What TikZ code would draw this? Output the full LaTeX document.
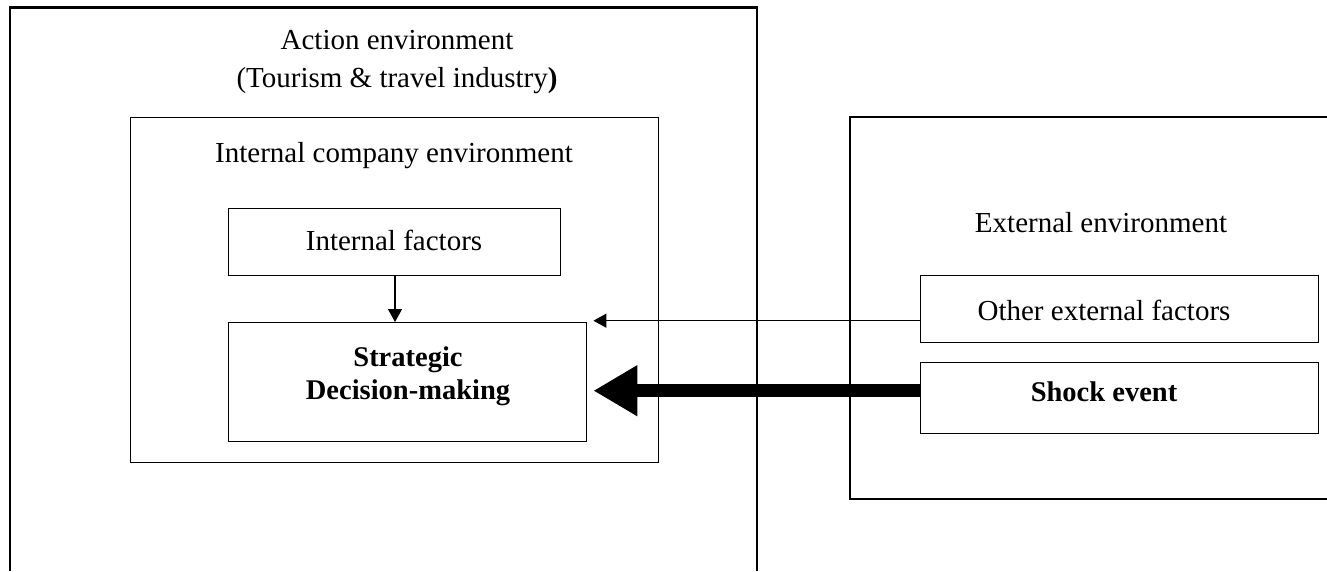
\documentclass[tikz,border=0pt]{standalone}
\usepackage{fontspec}
\setmainfont{Liberation Serif}
\usetikzlibrary{arrows.meta}
\begin{document}
\begin{tikzpicture}[x=1pt,y=-1pt,
  box/.style={draw, line width=1.4pt, anchor=north west, inner sep=0pt},
  lbl/.style={font=\fontsize{29}{38}\selectfont, align=center, inner sep=0pt},
  blbl/.style={font=\fontsize{28.5}{33}\selectfont\bfseries, align=center, inner sep=0pt},
  thinarrow/.style={line width=1.3pt, -{Triangle[length=13pt,width=14pt]}},
  bigarrow/.style={line width=13pt, -{Triangle[length=44pt,width=48pt]}}
]
\useasboundingbox (0,0) rectangle (1327,571);
\fill[white] (0,0) rectangle (1327,571);

% outer action environment (open at bottom)
\draw[line width=1.5pt] (10,571) -- (10,7);
\draw[line width=3pt] (9,7) -- (758,7);
\draw[line width=2.2pt] (757,6) -- (757,571);
\node[lbl] (act) at (397,62) {Action environment\\(Tourism \& travel industry{\bfseries )}};

% internal company environment
\node[box, minimum width=528pt, minimum height=345pt] (icomp) at (130,117) {};
\node[lbl] (icomplbl) at (394,156) {Internal company environment};

% internal factors
\node[box, minimum width=332pt, minimum height=67pt] (ifac) at (228,208) {};
\node[lbl] (ifaclbl) at (394,240) {Internal factors};

% strategic decision-making
\node[box, minimum width=358pt, minimum height=119pt] (strat) at (228,322) {};
\node[blbl] (stratlbl) at (408,376) {Strategic\\Decision-making};

% external environment (open at right)
\draw[line width=1.4pt] (1327,117) -- (850,117) -- (850,499) -- (1327,499);
\node[lbl] (extlbl) at (1101,223) {External environment};

% other external factors
\node[box, minimum width=398pt, minimum height=67pt] (other) at (920,275) {};
\node[lbl] (otherlbl) at (1104,310) {Other external factors};

% shock event
\node[box, minimum width=398pt, minimum height=71pt] (shock) at (920,362) {};
\node[blbl] (shocklbl) at (1104,392) {Shock event};

% connectors
\draw[thinarrow] (ifac.south -| 395,0) -- (strat.north -| 395,0);
\draw[thinarrow] ([yshift=-11.5pt]other.west) -- ([xshift=6pt,yshift=-11.5pt]other.west -| strat.east);
\draw[bigarrow] ([yshift=7.5pt]shock.west) -- ([xshift=6pt,yshift=7.5pt]shock.west -| strat.east);
\end{tikzpicture}
\end{document}
